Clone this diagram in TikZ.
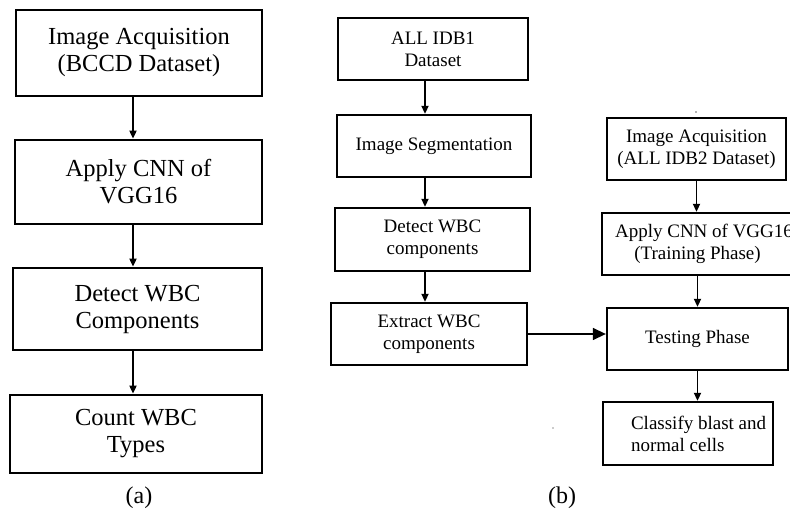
\documentclass[tikz,border=0pt]{standalone}
\usepackage{fontspec}
\setmainfont{Liberation Serif}
\usetikzlibrary{arrows.meta}
\begin{document}
\begin{tikzpicture}[x=1pt,y=-1pt,
  boxa/.style={draw, line width=2.7pt, align=center, inner sep=0pt, font=\fontsize{24.5}{27}\selectfont},
  boxb/.style={draw, line width=2.3pt, align=center, inner sep=0pt, font=\fontsize{19}{22}\selectfont},
  txtb/.style={inner sep=0pt, font=\fontsize{19}{22}\selectfont},
  arr/.style={line width=1.7pt, -{Triangle[length=8pt,width=7pt]}},
  arrbig/.style={line width=1.4pt, -{Triangle[length=13pt,width=12pt]}},
  figlabel/.style={inner sep=0pt, font=\fontsize{24}{28}\selectfont}]
\useasboundingbox (0,0) rectangle (790,510);
\fill[white] (0,0) rectangle (790,510);

% (a) column
\node[boxa, minimum width=246pt, minimum height=86pt] (a1) at (139,53) {Image Acquisition\\(BCCD Dataset)};
\node[boxa, minimum width=247pt, minimum height=84pt] (a2) at (138.5,182) {Apply CNN of\\VGG16};
\node[boxa, minimum width=249pt, minimum height=82pt] (a3) at (137.5,309) {Detect WBC\\Components};
\node[boxa, minimum width=252pt, minimum height=78pt] (a4) at (136,434) {Count WBC\\Types};
\node[figlabel] (la) at (139,498) {(a)};

\draw[arr] ([xshift=-6pt]a1.south) -- ([xshift=-6pt]a1.south |- a2.north);
\draw[arr] ([xshift=-5.5pt]a2.south) -- ([xshift=-5.5pt]a2.south |- a3.north);
\draw[arr] ([xshift=-4.5pt]a3.south) -- ([xshift=-4.5pt]a3.south |- a4.north);

% (b) left column
\node[boxb, minimum width=190pt, minimum height=62pt] (b1) at (433,49) {ALL IDB1\\Dataset};
\node[boxb, minimum width=194pt, minimum height=62pt] (b2) at (434,146) {Image Segmentation};
\node[boxb, minimum width=195pt, minimum height=63pt] (b3) at (432.5,239.5) {Detect WBC\\components};
\node[boxb, minimum width=196pt, minimum height=62pt] (b4) at (429,334) {Extract WBC\\components};

\draw[arr] ([xshift=-8pt]b1.south) -- ([xshift=-8pt]b1.south |- b2.north);
\draw[arr] ([xshift=-9pt]b2.south) -- ([xshift=-9pt]b2.south |- b3.north);
\draw[arr] ([xshift=-7.5pt]b3.south) -- ([xshift=-7.5pt]b3.south |- b4.north);

% (b) right column
\node[boxb, minimum width=179pt, minimum height=62pt] (r1) at (696.5,149) {Image Acquisition\\(ALL IDB2 Dataset)};
\node[boxb, minimum width=181pt, minimum height=62pt] (r2) at (697.5,244) {\hspace*{13pt}Apply CNN of VGG16\\(Training Phase)};
\node[boxb, minimum width=181pt, minimum height=62pt] (r3) at (697.5,339) {Testing Phase};
\node[boxb, minimum width=170pt, minimum height=63pt] (r4) at (688,433.5) {};
\node[txtb, anchor=west, align=left] (r4t) at ([xshift=29pt]r4.west) {Classify blast and\\normal cells};
\node[figlabel] (lb) at (562,498) {(b)};

\draw[arr] (r1.south) -- (r1.south |- r2.north);
\draw[arr] (r2.south) -- (r2.south |- r3.north);
\draw[arr] (r3.south) -- (r3.south |- r4.north);
\draw[arrbig] (b4.east) -- (b4.east -| r3.west);

% stray marks
\fill[black!60] (696,112) circle (0.8pt);
\fill[black!40] (553,428) circle (0.8pt);
\end{tikzpicture}
\end{document}
